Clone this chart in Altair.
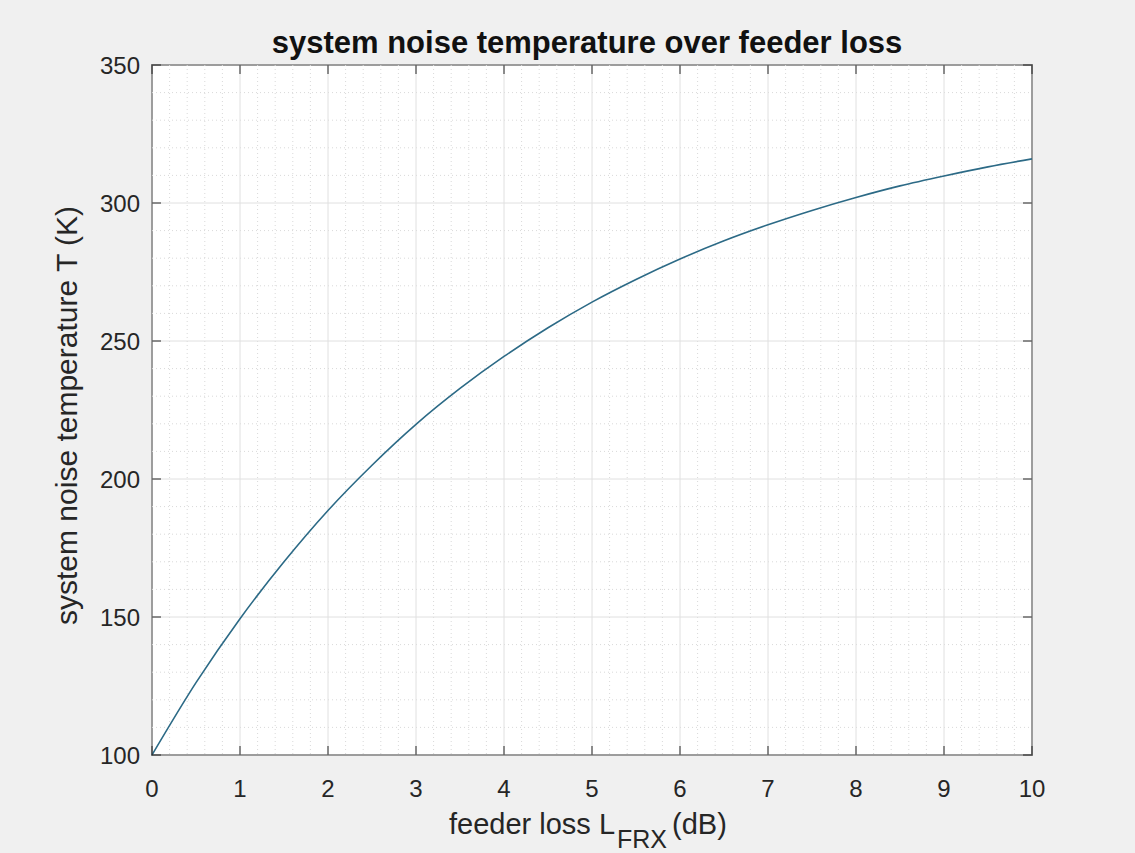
import altair as alt
import pandas as pd

# feeder loss (dB) and system noise temperature (K)
loss_db = [0.0, 0.5, 1.0, 1.5, 2.0, 2.5, 3.0, 3.5, 4.0, 4.5, 5.0,
           5.5, 6.0, 6.5, 7.0, 7.5, 8.0, 8.5, 9.0, 9.5, 10.0]
temp_k = [100.0, 126.2, 149.4, 170.0, 188.6, 205.0, 219.8, 232.8, 244.4, 254.8, 264.1,
          272.3, 279.7, 286.3, 292.1, 297.3, 302.0, 306.2, 309.8, 313.1, 316.0]

x_major = [0, 1, 2, 3, 4, 5, 6, 7, 8, 9, 10]
x_minor = [round(i * 0.2, 1) for i in range(51) if i % 5 != 0]
y_major = [100, 150, 200, 250, 300, 350]
y_minor = [v for v in range(100, 351, 10) if v % 50 != 0]

W, H = 880, 690
FONT = "Liberation Sans"
TXT = "#262626"

curve = pd.DataFrame({"loss": loss_db, "T": temp_k})
xmaj = pd.DataFrame({"v": x_major})
xmin = pd.DataFrame({"v": x_minor})
ymaj = pd.DataFrame({"v": y_major})
ymin = pd.DataFrame({"v": y_minor})

xs = alt.Scale(domain=[0, 10], nice=False, zero=False)
ys = alt.Scale(domain=[100, 350], nice=False, zero=False)

# minor grid (dotted)
gx_minor = alt.Chart(xmin).mark_rule(color="#d9d9d9", strokeDash=[1, 3], strokeWidth=1).encode(
    x=alt.X("v:Q", scale=xs, axis=None), y=alt.value(0), y2=alt.value(H))
gy_minor = alt.Chart(ymin).mark_rule(color="#d9d9d9", strokeDash=[1, 3], strokeWidth=1).encode(
    y=alt.Y("v:Q", scale=ys, axis=None), x=alt.value(0), x2=alt.value(W))

# major grid (solid)
gx_major = alt.Chart(xmaj).mark_rule(color="#e0e0e0", strokeWidth=1).encode(
    x=alt.X("v:Q", scale=xs, axis=None), y=alt.value(0), y2=alt.value(H))
gy_major = alt.Chart(ymaj).mark_rule(color="#e0e0e0", strokeWidth=1).encode(
    y=alt.Y("v:Q", scale=ys, axis=None), x=alt.value(0), x2=alt.value(W))

# inward ticks on all four sides
tick_len = 9
tx_bot = alt.Chart(xmaj).mark_rule(color=TXT, strokeWidth=1).encode(
    x=alt.X("v:Q", scale=xs, axis=None), y=alt.value(H), y2=alt.value(H - tick_len))
tx_top = alt.Chart(xmaj).mark_rule(color=TXT, strokeWidth=1).encode(
    x=alt.X("v:Q", scale=xs, axis=None), y=alt.value(0), y2=alt.value(tick_len))
ty_left = alt.Chart(ymaj).mark_rule(color=TXT, strokeWidth=1).encode(
    y=alt.Y("v:Q", scale=ys, axis=None), x=alt.value(0), x2=alt.value(tick_len))
ty_right = alt.Chart(ymaj).mark_rule(color=TXT, strokeWidth=1).encode(
    y=alt.Y("v:Q", scale=ys, axis=None), x=alt.value(W), x2=alt.value(W - tick_len))

# tick labels
lx = alt.Chart(xmaj).mark_text(font=FONT, fontSize=24, color=TXT, baseline="alphabetic").encode(
    x=alt.X("v:Q", scale=xs, axis=None), y=alt.value(H + 42), text=alt.Text("v:Q"))
ly = alt.Chart(ymaj).mark_text(font=FONT, fontSize=24, color=TXT, align="right",
                               baseline="alphabetic", dy=9).encode(
    y=alt.Y("v:Q", scale=ys, axis=None), x=alt.value(-12), text=alt.Text("v:Q"))

line = alt.Chart(curve).mark_line(color="#2c6a86", strokeWidth=1.6, interpolate="monotone").encode(
    x=alt.X("loss:Q", scale=xs, axis=None), y=alt.Y("T:Q", scale=ys, axis=None))

# titles
title = alt.Chart(pd.DataFrame({"t": ["system noise temperature over feeder loss"]})).mark_text(
    font=FONT, fontSize=31, fontWeight="bold", color="#111111", align="center", baseline="alphabetic"
).encode(x=alt.value(435), y=alt.value(-12), text="t:N")

ytitle = alt.Chart(pd.DataFrame({"t": ["system noise temperature T (K)"]})).mark_text(
    font=FONT, fontSize=30, color=TXT, align="left", baseline="alphabetic", angle=270
).encode(x=alt.value(-75), y=alt.value(560), text="t:N")

xt1 = alt.Chart(pd.DataFrame({"t": ["feeder loss L"]})).mark_text(
    font=FONT, fontSize=29, color=TXT, align="left", baseline="alphabetic"
).encode(x=alt.value(297), y=alt.value(H + 79), text="t:N")
xt2 = alt.Chart(pd.DataFrame({"t": ["FRX"]})).mark_text(
    font=FONT, fontSize=25, color=TXT, align="left", baseline="alphabetic"
).encode(x=alt.value(465), y=alt.value(H + 93), text="t:N")
xt3 = alt.Chart(pd.DataFrame({"t": ["(dB)"]})).mark_text(
    font=FONT, fontSize=29, color=TXT, align="left", baseline="alphabetic"
).encode(x=alt.value(520), y=alt.value(H + 79), text="t:N")

chart = alt.layer(
    gx_minor, gy_minor, gx_major, gy_major, line,
    tx_bot, tx_top, ty_left, ty_right, lx, ly,
    title, ytitle, xt1, xt2, xt3,
).properties(
    width=W, height=H,
    autosize=alt.AutoSizeParams(type="none"),
    padding={"left": 152, "top": 65, "right": 103, "bottom": 98},
).configure(background="#f0f0f0").configure_view(
    fill="white", stroke="#262626", strokeWidth=1.5
)

chart.save("out.html", embed_options={"renderer": "svg", "actions": False})
